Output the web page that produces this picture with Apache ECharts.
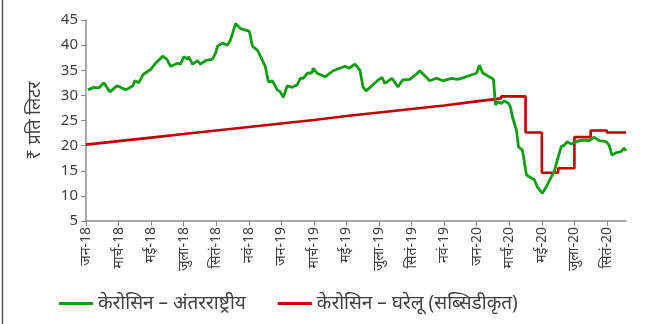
<!DOCTYPE html>
<html>
<head>
<meta charset="utf-8">
<script src="https://cdn.jsdelivr.net/npm/echarts@6/dist/echarts.min.js"></script>
<style>
  html, body { margin: 0; padding: 0; background: #fff; }
  #chart { width: 649px; height: 324px; }
</style>
</head>
<body>
<div id="chart"></div>
<script>
// Month labels every two months, starting Jan 2018 (x = months since 1 Jan 2018)
const tickLabels = ['जन-18', 'मार्च-18', 'मई-18', 'जुला-18', 'सितं-18', 'नवं-18',
  'जन-19', 'मार्च-19', 'मई-19', 'जुला-19', 'सितं-19', 'नवं-19',
  'जन-20', 'मार्च-20', 'मई-20', 'जुला-20', 'सितं-20'];

const seriesNames = ['केरोसिन – अंतरराष्ट्रीय', 'केरोसिन – घरेलू (सब्सिडीकृत)'];

// International kerosene price, ₹ per litre: [month position, value]
const intlPrice = [
  [0.12, 31.1], [0.49, 31.6], [0.80, 31.5], [1.10, 32.5], [1.47, 30.7], [1.90, 31.9],
  [2.45, 31.1], [2.88, 31.9], [3.00, 32.9], [3.24, 32.5], [3.49, 34.1], [3.98, 35.2],
  [4.28, 36.4], [4.71, 37.8], [4.96, 37.2], [5.20, 35.8], [5.63, 36.4], [5.81, 36.2],
  [6.00, 37.7], [6.24, 37.2], [6.30, 37.7], [6.55, 36.2], [6.85, 36.9], [7.04, 36.2],
  [7.34, 36.9], [7.77, 37.2], [7.96, 38.4], [8.08, 39.8], [8.38, 40.4], [8.69, 40.0],
  [8.87, 41.0], [9.00, 42.3], [9.18, 44.3], [9.30, 44.2], [9.49, 43.3], [9.91, 42.9],
  [10.04, 42.7], [10.22, 39.8], [10.53, 39.0], [10.83, 37.0], [11.02, 35.7], [11.20, 32.7],
  [11.44, 32.9], [11.75, 31.1], [11.93, 30.7], [12.12, 29.6], [12.36, 31.9], [12.67, 31.6],
  [12.97, 32.1], [13.16, 33.4], [13.34, 33.4], [13.59, 34.4], [13.89, 34.5], [13.95, 35.4],
  [14.20, 34.4], [14.69, 33.7], [15.18, 34.9], [15.91, 35.8], [16.16, 35.4], [16.52, 36.2],
  [16.83, 35.0], [17.01, 31.7], [17.20, 30.9], [17.56, 31.9], [17.93, 33.0], [18.18, 33.6],
  [18.36, 32.4], [18.79, 33.4], [19.16, 31.7], [19.46, 33.1], [19.89, 33.2], [20.32, 34.3],
  [20.50, 34.9], [20.81, 33.9], [21.11, 32.9], [21.54, 33.4], [21.91, 32.9], [22.46, 33.4],
  [22.83, 33.2], [23.26, 33.6], [23.68, 34.1], [23.99, 34.4], [24.17, 36.0], [24.36, 34.5],
  [24.66, 33.9], [25.03, 33.2], [25.15, 28.1], [25.28, 28.7], [25.52, 28.4], [25.70, 28.9],
  [25.95, 28.4], [26.07, 27.7], [26.19, 25.8], [26.44, 23.1], [26.56, 19.8], [26.81, 19.1],
  [27.05, 14.2], [27.23, 13.8], [27.54, 13.2], [27.72, 11.8], [28.03, 10.5], [28.27, 11.8],
  [28.58, 13.8], [28.76, 14.8], [28.95, 17.1], [29.19, 19.8], [29.38, 20.1], [29.56, 20.8],
  [29.80, 20.3], [30.11, 20.8], [30.48, 21.1], [30.91, 21.0], [31.21, 21.7], [31.52, 21.0],
  [31.95, 20.8], [32.13, 20.1], [32.31, 18.1], [32.56, 18.6], [32.86, 18.8], [33.05, 19.5],
  [33.17, 19.0]
];

// Domestic (subsidised) kerosene price, ₹ per litre: [month position, value].
// Small monthly revisions through early 2020, then larger jumps at each revision.
const domesticPrice = [
  [0, 20.2], [2, 20.9], [4, 21.6], [6, 22.3], [8, 23.0], [10, 23.7], [12, 24.4],
  [14, 25.1], [16, 25.9], [18, 26.6], [20, 27.3], [22, 28.0], [24, 28.8], [25, 29.2],
  [25.5, 29.4], [25.5, 29.8], [27, 29.8], [27, 22.6], [28, 22.6], [28, 14.6],
  [29, 14.6], [29, 15.5], [30, 15.5], [30, 21.7], [31, 21.7], [31, 23.0],
  [32, 23.0], [32, 22.6], [33.17, 22.6]
];

const textColor = '#404040';
const axisColor = '#8c8c8c';
const fontFamily = '"Noto Sans", "Liberation Sans", sans-serif';

const chart = echarts.init(document.getElementById('chart'), null, { renderer: 'canvas' });
chart.setOption({
  backgroundColor: '#ffffff',
  animation: false,
  textStyle: { fontFamily: fontFamily },
  grid: { left: 86, right: 23, top: 20, bottom: 103 },
  legend: {
    bottom: 6,
    left: 54,
    icon: 'rect',
    itemWidth: 34,
    itemHeight: 3,
    itemGap: 32,
    textStyle: { fontSize: 19, color: textColor, fontFamily: fontFamily },
    data: seriesNames
  },
  xAxis: {
    type: 'value',
    min: 0,
    max: 33.17,
    interval: 2,
    splitLine: { show: false },
    axisLine: { lineStyle: { color: axisColor, width: 1.5 } },
    axisTick: { show: true, length: 5, lineStyle: { color: axisColor } },
    axisLabel: {
      rotate: 90,
      fontSize: 14,
      color: textColor,
      margin: 6,
      showMaxLabel: false,
      formatter: function (v) {
        const i = Math.round(v / 2);
        return tickLabels[i] !== undefined ? tickLabels[i] : '';
      }
    }
  },
  yAxis: {
    type: 'value',
    min: 5,
    max: 45,
    interval: 5,
    name: '₹ प्रति लिटर',
    nameLocation: 'middle',
    nameGap: 42,
    nameRotate: 90,
    nameTextStyle: { fontSize: 18, color: textColor },
    splitLine: { show: false },
    axisLine: { show: true, lineStyle: { color: axisColor, width: 1.5 } },
    axisTick: { show: true, length: 5, lineStyle: { color: axisColor } },
    axisLabel: { fontSize: 15, color: textColor, margin: 8 }
  },
  series: [
    {
      name: seriesNames[0],
      type: 'line',
      data: intlPrice,
      symbol: 'none',
      lineStyle: { color: '#109c10', width: 2.8 },
      itemStyle: { color: '#109c10' },
      z: 3
    },
    {
      name: seriesNames[1],
      type: 'line',
      data: domesticPrice,
      symbol: 'none',
      lineStyle: { color: '#c00000', width: 2.6 },
      itemStyle: { color: '#c00000' },
      z: 2
    }
  ],
  graphic: [
    {
      type: 'line',
      shape: { x1: 2.5, y1: 0, x2: 2.5, y2: 324 },
      style: { stroke: '#555555', lineWidth: 1.5 }
    }
  ]
});
</script>
</body>
</html>
